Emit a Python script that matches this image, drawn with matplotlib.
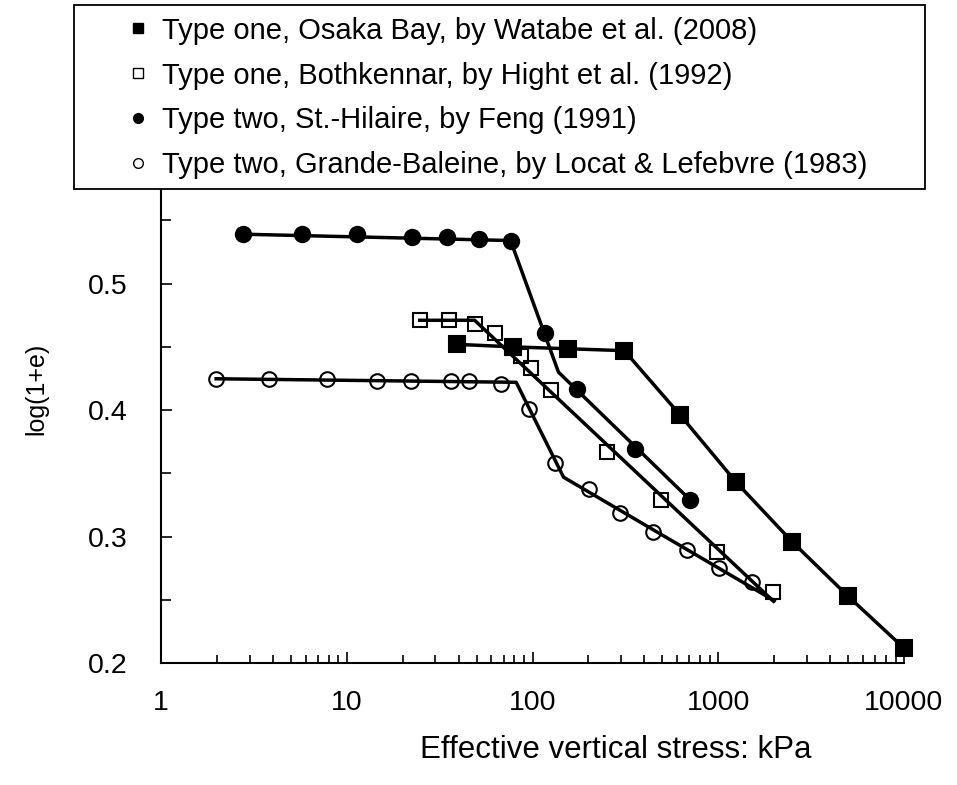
import numpy as np
import matplotlib
matplotlib.use("Agg")
import matplotlib.pyplot as plt
from matplotlib.lines import Line2D
from matplotlib.patches import Rectangle
from matplotlib.ticker import LogLocator, MultipleLocator

plt.rcParams["font.family"] = ["Liberation Sans", "DejaVu Sans"]

# ---------- data ----------
# Type one, Osaka Bay (filled squares)
osaka_x = [39.1, 78.1, 156, 312, 625, 1250, 2500, 5000, 10000]
osaka_y = [0.452, 0.450, 0.4485, 0.447, 0.396, 0.343, 0.296, 0.253, 0.212]

# Type one, Bothkennar (open squares) + fitted line
both_x = [24.7, 35.5, 49.2, 62.7, 86.9, 98.4, 126, 252, 492, 984, 1968]
both_y = [0.471, 0.471, 0.468, 0.461, 0.443, 0.433, 0.416, 0.367, 0.329, 0.288, 0.256]
both_line_x = [24.7, 48.8, 1983]
both_line_y = [0.471, 0.471, 0.249]

# Type two, St.-Hilaire (filled circles) + fitted line
hil_x = [2.77, 5.71, 11.4, 22.5, 34.8, 51.4, 76.2, 116.5, 173, 356, 707]
hil_y = [0.539, 0.539, 0.539, 0.537, 0.537, 0.535, 0.534, 0.461, 0.417, 0.369, 0.329]
hil_line_x = [2.77, 76.2, 138, 707]
hil_line_y = [0.539, 0.534, 0.430, 0.329]

# Type two, Grande-Baleine (open circles) + fitted line
gb_x = [1.98, 3.82, 7.87, 14.6, 22.3, 36.5, 45.5, 67.9, 95.5, 132, 201, 297, 444, 676, 1004, 1528]
gb_y = [0.425, 0.425, 0.425, 0.423, 0.423, 0.423, 0.423, 0.4204, 0.401, 0.3585, 0.338,
        0.319, 0.3035, 0.2895, 0.275, 0.264]
gb_line_x = [1.98, 81.7, 147, 2000]
gb_line_y = [0.4248, 0.422, 0.347, 0.2495]

labels = ["Type one, Osaka Bay, by Watabe et al. (2008)",
          "Type one, Bothkennar, by Hight et al. (1992)",
          "Type two, St.-Hilaire, by Feng (1991)",
          "Type two, Grande-Baleine, by Locat & Lefebvre (1983)"]

W, H = 957, 785
fig = plt.figure(figsize=(W / 100, H / 100), dpi=100)
ax = fig.add_axes([161 / W, 1 - 663.3 / H, (904 - 161) / W, (663.3 - 157) / H])

LW = 2.5
MS = 11
MEW = 1.5

# fitted lines
ax.plot(osaka_x, osaka_y, color="black", lw=LW, zorder=2)
ax.plot(both_line_x, both_line_y, color="black", lw=LW, zorder=2)
ax.plot(hil_line_x, hil_line_y, color="black", lw=LW, zorder=2)
ax.plot(gb_line_x, gb_line_y, color="black", lw=LW, zorder=2)

# markers
ax.plot(osaka_x, osaka_y, ls="none", marker="s", ms=MS, mfc="black", mec="black",
        mew=MEW, zorder=3, clip_on=False)
ax.plot(both_x, both_y, ls="none", marker="s", ms=MS - 0.5, mfc="none", mec="black",
        mew=MEW, zorder=3, clip_on=False)
ax.plot(hil_x, hil_y, ls="none", marker="o", ms=MS, mfc="black", mec="black",
        mew=MEW, zorder=3, clip_on=False)
ax.plot(gb_x, gb_y, ls="none", marker="o", ms=MS - 0.5, mfc="none", mec="black",
        mew=MEW, zorder=3, clip_on=False)

ax.set_xscale("log")
ax.set_xlim(1, 10000)
ax.set_ylim(0.2, 0.6)

ax.xaxis.set_minor_locator(LogLocator(base=10, subs=np.arange(2, 10), numticks=20))
ax.set_xticks([1, 10, 100, 1000, 10000])
ax.set_xticklabels(["1", "10", "100", "1000", "10000"])
ax.yaxis.set_minor_locator(MultipleLocator(0.05))
ax.set_yticks([0.2, 0.3, 0.4, 0.5, 0.6])
ax.set_yticklabels(["0.2", "0.3", "0.4", "0.5", "0.6"])

for s in ["top", "right"]:
    ax.spines[s].set_visible(False)
for s in ["left", "bottom"]:
    ax.spines[s].set_linewidth(1.5)

ax.tick_params(axis="both", which="major", direction="in", length=8, width=1.2, labelsize=20.5)
ax.tick_params(axis="both", which="minor", direction="in", length=6, width=1.2)
ax.tick_params(axis="y", which="minor", length=7.5)
ax.tick_params(axis="x", which="major", pad=19)
ax.tick_params(axis="y", which="major", pad=24)

ax.set_xlabel("Effective vertical stress: kPa", fontsize=22.5)
ax.xaxis.set_label_coords(0.612, -0.142)
ax.set_ylabel("log(1+e)", fontsize=18)
ax.yaxis.set_label_coords(-0.152, 0.542)

# legend box on top of the plot
box = Rectangle((74 / W, 1 - 189 / H), (925 - 74) / W, (189 - 5) / H,
                transform=fig.transFigure, facecolor="white", edgecolor="black",
                linewidth=1.3, zorder=4)
fig.add_artist(box)

handles = [
    Line2D([], [], ls="none", marker="s", ms=7, mfc="black", mec="black", mew=1),
    Line2D([], [], ls="none", marker="s", ms=7, mfc="white", mec="black", mew=1),
    Line2D([], [], ls="none", marker="o", ms=7, mfc="black", mec="black", mew=1),
    Line2D([], [], ls="none", marker="o", ms=7, mfc="white", mec="black", mew=1),
]
fig.legend(handles, labels, loc="center left", bbox_to_anchor=(129.7 / W, 1 - 98 / H),
           frameon=False, fontsize=21, handlelength=0.55, handletextpad=0.56,
           labelspacing=0.58, borderpad=0, borderaxespad=0)

fig.savefig("out.png", dpi=100)
